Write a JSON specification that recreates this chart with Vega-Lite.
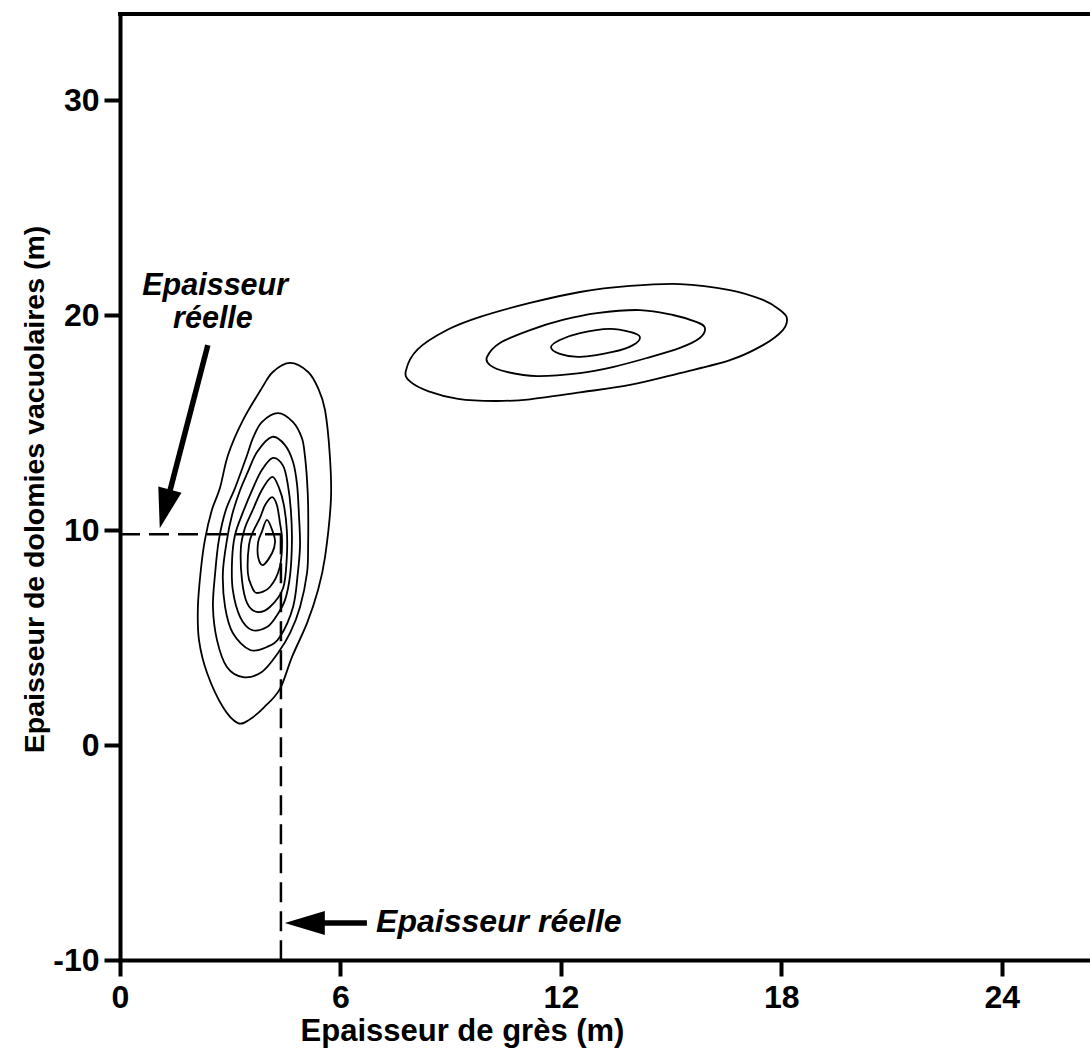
{
  "$schema": "https://vega.github.io/schema/vega-lite/v6.json",
  "width": 970,
  "height": 946,
  "autosize": {"type": "none"},
  "padding": {"left": 120, "top": 14, "right": 0, "bottom": 99},
  "background": "white",
  "config": {
    "view": {"stroke": null},
    "axis": {
      "grid": false,
      "domainColor": "black",
      "domainWidth": 4,
      "domainCap": "square",
      "tickColor": "black",
      "tickWidth": 4,
      "tickSize": 16,
      "labelFont": "Liberation Sans",
      "labelFontSize": 32,
      "labelFontWeight": "bold",
      "labelColor": "black",
      "labelFlush": false,
      "labelOverlap": false,
      "titleFont": "Liberation Sans",
      "titleFontWeight": "bold",
      "titleColor": "black"
    }
  },
  "datasets": {
    "frame": [{"x": 0, "x2": 26.4, "y": 34}],
    "contours": [
      {"c": "L1", "o": 0, "x": 4.63, "y": 17.77},
      {"c": "L1", "o": 1, "x": 5.12, "y": 17.35},
      {"c": "L1", "o": 2, "x": 5.39, "y": 16.6},
      {"c": "L1", "o": 3, "x": 5.58, "y": 15.58},
      {"c": "L1", "o": 4, "x": 5.71, "y": 13.49},
      {"c": "L1", "o": 5, "x": 5.74, "y": 11.4},
      {"c": "L1", "o": 6, "x": 5.58, "y": 8.74},
      {"c": "L1", "o": 7, "x": 5.39, "y": 7.21},
      {"c": "L1", "o": 8, "x": 5.09, "y": 5.67},
      {"c": "L1", "o": 9, "x": 4.68, "y": 4.09},
      {"c": "L1", "o": 10, "x": 4.35, "y": 2.6},
      {"c": "L1", "o": 11, "x": 3.92, "y": 1.75},
      {"c": "L1", "o": 12, "x": 3.54, "y": 1.2},
      {"c": "L1", "o": 13, "x": 3.21, "y": 1.02},
      {"c": "L1", "o": 14, "x": 2.8, "y": 1.77},
      {"c": "L1", "o": 15, "x": 2.37, "y": 3.35},
      {"c": "L1", "o": 16, "x": 2.15, "y": 4.88},
      {"c": "L1", "o": 17, "x": 2.12, "y": 6.42},
      {"c": "L1", "o": 18, "x": 2.2, "y": 8.14},
      {"c": "L1", "o": 19, "x": 2.31, "y": 9.53},
      {"c": "L1", "o": 20, "x": 2.5, "y": 10.93},
      {"c": "L1", "o": 21, "x": 2.72, "y": 11.95},
      {"c": "L1", "o": 22, "x": 2.94, "y": 13.49},
      {"c": "L1", "o": 23, "x": 3.32, "y": 15.02},
      {"c": "L1", "o": 24, "x": 3.86, "y": 16.6},
      {"c": "L1", "o": 25, "x": 4.16, "y": 17.35},

      {"c": "L2", "o": 0, "x": 4.3, "y": 15.44},
      {"c": "L2", "o": 1, "x": 4.71, "y": 15.02},
      {"c": "L2", "o": 2, "x": 4.95, "y": 14.28},
      {"c": "L2", "o": 3, "x": 5.03, "y": 13.49},
      {"c": "L2", "o": 4, "x": 5.09, "y": 12.33},
      {"c": "L2", "o": 5, "x": 5.12, "y": 11.16},
      {"c": "L2", "o": 6, "x": 5.12, "y": 9.3},
      {"c": "L2", "o": 7, "x": 5.09, "y": 8.0},
      {"c": "L2", "o": 8, "x": 4.9, "y": 6.42},
      {"c": "L2", "o": 9, "x": 4.63, "y": 5.21},
      {"c": "L2", "o": 10, "x": 4.3, "y": 4.28},
      {"c": "L2", "o": 11, "x": 3.86, "y": 3.4},
      {"c": "L2", "o": 12, "x": 3.35, "y": 3.16},
      {"c": "L2", "o": 13, "x": 2.91, "y": 3.63},
      {"c": "L2", "o": 14, "x": 2.64, "y": 4.88},
      {"c": "L2", "o": 15, "x": 2.53, "y": 6.42},
      {"c": "L2", "o": 16, "x": 2.59, "y": 8.0},
      {"c": "L2", "o": 17, "x": 2.69, "y": 9.53},
      {"c": "L2", "o": 18, "x": 2.88, "y": 10.93},
      {"c": "L2", "o": 19, "x": 3.13, "y": 11.95},
      {"c": "L2", "o": 20, "x": 3.46, "y": 13.49},
      {"c": "L2", "o": 21, "x": 3.62, "y": 14.28},
      {"c": "L2", "o": 22, "x": 3.86, "y": 15.02},

      {"c": "L3", "o": 0, "x": 4.14, "y": 14.33},
      {"c": "L3", "o": 1, "x": 4.49, "y": 13.95},
      {"c": "L3", "o": 2, "x": 4.71, "y": 13.16},
      {"c": "L3", "o": 3, "x": 4.82, "y": 12.09},
      {"c": "L3", "o": 4, "x": 4.87, "y": 10.7},
      {"c": "L3", "o": 5, "x": 4.9, "y": 9.3},
      {"c": "L3", "o": 6, "x": 4.84, "y": 8.0},
      {"c": "L3", "o": 7, "x": 4.71, "y": 6.42},
      {"c": "L3", "o": 8, "x": 4.35, "y": 5.02},
      {"c": "L3", "o": 9, "x": 4.0, "y": 4.56},
      {"c": "L3", "o": 10, "x": 3.54, "y": 4.42},
      {"c": "L3", "o": 11, "x": 3.07, "y": 5.21},
      {"c": "L3", "o": 12, "x": 2.86, "y": 6.42},
      {"c": "L3", "o": 13, "x": 2.8, "y": 8.0},
      {"c": "L3", "o": 14, "x": 2.91, "y": 9.53},
      {"c": "L3", "o": 15, "x": 3.05, "y": 10.7},
      {"c": "L3", "o": 16, "x": 3.27, "y": 11.86},
      {"c": "L3", "o": 17, "x": 3.48, "y": 12.7},
      {"c": "L3", "o": 18, "x": 3.73, "y": 13.63},

      {"c": "L4", "o": 0, "x": 4.16, "y": 13.35},
      {"c": "L4", "o": 1, "x": 4.44, "y": 12.98},
      {"c": "L4", "o": 2, "x": 4.57, "y": 12.09},
      {"c": "L4", "o": 3, "x": 4.65, "y": 10.93},
      {"c": "L4", "o": 4, "x": 4.68, "y": 9.53},
      {"c": "L4", "o": 5, "x": 4.63, "y": 7.91},
      {"c": "L4", "o": 6, "x": 4.49, "y": 6.74},
      {"c": "L4", "o": 7, "x": 4.24, "y": 5.95},
      {"c": "L4", "o": 8, "x": 4.0, "y": 5.49},
      {"c": "L4", "o": 9, "x": 3.59, "y": 5.35},
      {"c": "L4", "o": 10, "x": 3.27, "y": 5.95},
      {"c": "L4", "o": 11, "x": 3.07, "y": 7.21},
      {"c": "L4", "o": 12, "x": 3.05, "y": 8.6},
      {"c": "L4", "o": 13, "x": 3.13, "y": 9.77},
      {"c": "L4", "o": 14, "x": 3.35, "y": 10.84},
      {"c": "L4", "o": 15, "x": 3.62, "y": 11.95},
      {"c": "L4", "o": 16, "x": 3.86, "y": 12.79},

      {"c": "L5", "o": 0, "x": 4.14, "y": 12.47},
      {"c": "L5", "o": 1, "x": 4.33, "y": 11.95},
      {"c": "L5", "o": 2, "x": 4.46, "y": 11.16},
      {"c": "L5", "o": 3, "x": 4.54, "y": 10.0},
      {"c": "L5", "o": 4, "x": 4.54, "y": 8.74},
      {"c": "L5", "o": 5, "x": 4.44, "y": 7.3},
      {"c": "L5", "o": 6, "x": 4.08, "y": 6.42},
      {"c": "L5", "o": 7, "x": 3.73, "y": 6.19},
      {"c": "L5", "o": 8, "x": 3.46, "y": 6.6},
      {"c": "L5", "o": 9, "x": 3.32, "y": 7.67},
      {"c": "L5", "o": 10, "x": 3.29, "y": 9.16},
      {"c": "L5", "o": 11, "x": 3.4, "y": 10.09},
      {"c": "L5", "o": 12, "x": 3.59, "y": 10.84},
      {"c": "L5", "o": 13, "x": 3.86, "y": 11.86},

      {"c": "L6", "o": 0, "x": 4.14, "y": 11.53},
      {"c": "L6", "o": 1, "x": 4.27, "y": 11.16},
      {"c": "L6", "o": 2, "x": 4.35, "y": 10.37},
      {"c": "L6", "o": 3, "x": 4.41, "y": 9.53},
      {"c": "L6", "o": 4, "x": 4.35, "y": 8.28},
      {"c": "L6", "o": 5, "x": 4.08, "y": 7.35},
      {"c": "L6", "o": 6, "x": 3.73, "y": 7.07},
      {"c": "L6", "o": 7, "x": 3.59, "y": 7.35},
      {"c": "L6", "o": 8, "x": 3.48, "y": 8.0},
      {"c": "L6", "o": 9, "x": 3.51, "y": 9.3},
      {"c": "L6", "o": 10, "x": 3.62, "y": 9.91},
      {"c": "L6", "o": 11, "x": 3.81, "y": 10.56},
      {"c": "L6", "o": 12, "x": 3.95, "y": 11.16},

      {"c": "L7", "o": 0, "x": 4.0, "y": 10.47},
      {"c": "L7", "o": 1, "x": 4.16, "y": 9.91},
      {"c": "L7", "o": 2, "x": 4.22, "y": 9.44},
      {"c": "L7", "o": 3, "x": 4.14, "y": 8.93},
      {"c": "L7", "o": 4, "x": 3.89, "y": 8.37},
      {"c": "L7", "o": 5, "x": 3.76, "y": 8.74},
      {"c": "L7", "o": 6, "x": 3.76, "y": 9.44},
      {"c": "L7", "o": 7, "x": 3.86, "y": 9.91},

      {"c": "R1", "o": 0, "x": 7.78, "y": 17.4},
      {"c": "R1", "o": 1, "x": 8.1, "y": 18.4},
      {"c": "R1", "o": 2, "x": 8.9, "y": 19.3},
      {"c": "R1", "o": 3, "x": 9.8, "y": 19.91},
      {"c": "R1", "o": 4, "x": 11.16, "y": 20.56},
      {"c": "R1", "o": 5, "x": 12.52, "y": 21.07},
      {"c": "R1", "o": 6, "x": 13.88, "y": 21.35},
      {"c": "R1", "o": 7, "x": 15.24, "y": 21.44},
      {"c": "R1", "o": 8, "x": 16.6, "y": 21.16},
      {"c": "R1", "o": 9, "x": 17.5, "y": 20.7},
      {"c": "R1", "o": 10, "x": 17.96, "y": 20.23},
      {"c": "R1", "o": 11, "x": 18.15, "y": 19.86},
      {"c": "R1", "o": 12, "x": 18.04, "y": 19.3},
      {"c": "R1", "o": 13, "x": 17.5, "y": 18.6},
      {"c": "R1", "o": 14, "x": 16.6, "y": 17.9},
      {"c": "R1", "o": 15, "x": 15.24, "y": 17.3},
      {"c": "R1", "o": 16, "x": 13.88, "y": 16.75},
      {"c": "R1", "o": 17, "x": 12.52, "y": 16.4},
      {"c": "R1", "o": 18, "x": 11.16, "y": 16.08},
      {"c": "R1", "o": 19, "x": 10.2, "y": 16.0},
      {"c": "R1", "o": 20, "x": 9.2, "y": 16.1},
      {"c": "R1", "o": 21, "x": 8.4, "y": 16.45},
      {"c": "R1", "o": 22, "x": 7.9, "y": 16.9},

      {"c": "R2", "o": 0, "x": 9.99, "y": 18.05},
      {"c": "R2", "o": 1, "x": 10.34, "y": 18.7},
      {"c": "R2", "o": 2, "x": 11.16, "y": 19.3},
      {"c": "R2", "o": 3, "x": 12.05, "y": 19.77},
      {"c": "R2", "o": 4, "x": 12.98, "y": 20.09},
      {"c": "R2", "o": 5, "x": 14.15, "y": 20.23},
      {"c": "R2", "o": 6, "x": 15.05, "y": 20.0},
      {"c": "R2", "o": 7, "x": 15.7, "y": 19.67},
      {"c": "R2", "o": 8, "x": 15.92, "y": 19.4},
      {"c": "R2", "o": 9, "x": 15.78, "y": 18.93},
      {"c": "R2", "o": 10, "x": 15.24, "y": 18.47},
      {"c": "R2", "o": 11, "x": 14.34, "y": 18.0},
      {"c": "R2", "o": 12, "x": 13.41, "y": 17.58},
      {"c": "R2", "o": 13, "x": 12.52, "y": 17.3},
      {"c": "R2", "o": 14, "x": 11.35, "y": 17.16},
      {"c": "R2", "o": 15, "x": 10.53, "y": 17.35},
      {"c": "R2", "o": 16, "x": 10.07, "y": 17.67},

      {"c": "R3", "o": 0, "x": 11.73, "y": 18.51},
      {"c": "R3", "o": 1, "x": 11.97, "y": 18.84},
      {"c": "R3", "o": 2, "x": 12.52, "y": 19.16},
      {"c": "R3", "o": 3, "x": 13.33, "y": 19.35},
      {"c": "R3", "o": 4, "x": 13.88, "y": 19.21},
      {"c": "R3", "o": 5, "x": 14.15, "y": 18.98},
      {"c": "R3", "o": 6, "x": 13.96, "y": 18.6},
      {"c": "R3", "o": 7, "x": 13.41, "y": 18.28},
      {"c": "R3", "o": 8, "x": 12.52, "y": 18.05},
      {"c": "R3", "o": 9, "x": 11.97, "y": 18.19}
    ],
    "dashes": [
      {"x": 0, "y": 9.8, "x2": 4.38, "y2": 9.8},
      {"x": 4.38, "y": 9.8, "x2": 4.38, "y2": -10}
    ],
    "shafts": [
      {"x": 2.39, "y": 18.6, "x2": 1.33, "y2": 11.63},
      {"x": 5.44, "y": -8.28, "x2": 6.72, "y2": -8.28}
    ],
    "headDown": [{"x": 1.22, "y": 10.98}],
    "headLeft": [{"x": 5.03, "y": -8.28}],
    "labelsCenter": [
      {"x": 2.59, "y": 20.93, "t": "Epaisseur"},
      {"x": 2.53, "y": 19.4, "t": "réelle"}
    ],
    "labelsLeft": [
      {"x": 6.97, "y": -8.7, "t": "Epaisseur réelle"}
    ]
  },
  "encoding": {
    "x": {
      "field": "x",
      "type": "quantitative",
      "scale": {"domain": [0, 26.4], "nice": false, "zero": false},
      "title": "Epaisseur de grès (m)",
      "axis": {
        "values": [0, 6, 12, 18, 24],
        "labelPadding": 6,
        "titleFontSize": 31,
        "titleX": 342,
        "titleY": 71,
        "titleAlign": "center",
        "titleBaseline": "middle"
      }
    },
    "y": {
      "field": "y",
      "type": "quantitative",
      "scale": {"domain": [-10, 34], "nice": false, "zero": false},
      "title": "Epaisseur de dolomies vacuolaires (m)",
      "axis": {
        "values": [-10, 0, 10, 20, 30],
        "labelExpr": "toString(datum.value)",
        "labelPadding": 5,
        "titleFontSize": 28.5,
        "titleX": -86,
        "titleY": 475,
        "titleAngle": -90,
        "titleAlign": "center",
        "titleBaseline": "middle"
      }
    }
  },
  "layer": [
    {
      "data": {"name": "frame"},
      "mark": {"type": "rule", "color": "black", "strokeWidth": 4, "strokeCap": "square"},
      "encoding": {"x2": {"field": "x2"}}
    },
    {
      "data": {"name": "contours"},
      "mark": {"type": "line", "color": "black", "strokeWidth": 1.8, "interpolate": "cardinal-closed"},
      "encoding": {
        "detail": {"field": "c"},
        "order": {"field": "o", "type": "quantitative"}
      }
    },
    {
      "data": {"name": "dashes"},
      "mark": {"type": "rule", "color": "black", "strokeWidth": 2.5, "strokeDash": [20, 9]},
      "encoding": {"x2": {"field": "x2"}, "y2": {"field": "y2"}}
    },
    {
      "data": {"name": "shafts"},
      "mark": {"type": "rule", "color": "black", "strokeWidth": 5.5},
      "encoding": {"x2": {"field": "x2"}, "y2": {"field": "y2"}}
    },
    {
      "data": {"name": "headDown"},
      "mark": {"type": "point", "shape": "M-0.6,-1L0.6,-1L0,1Z", "size": 1600, "angle": 14.7, "filled": true, "color": "black", "opacity": 1, "strokeWidth": 0},
      "encoding": {}
    },
    {
      "data": {"name": "headLeft"},
      "mark": {"type": "point", "shape": "M-0.6,-1L0.6,-1L0,1Z", "size": 1600, "angle": 90, "filled": true, "color": "black", "opacity": 1, "strokeWidth": 0},
      "encoding": {}
    },
    {
      "data": {"name": "labelsCenter"},
      "mark": {"type": "text", "font": "Liberation Sans", "fontSize": 30.5, "fontWeight": "bold", "fontStyle": "italic", "align": "center", "baseline": "alphabetic", "color": "black"},
      "encoding": {"text": {"field": "t"}}
    },
    {
      "data": {"name": "labelsLeft"},
      "mark": {"type": "text", "font": "Liberation Sans", "fontSize": 32, "fontWeight": "bold", "fontStyle": "italic", "align": "left", "baseline": "alphabetic", "color": "black"},
      "encoding": {"text": {"field": "t"}}
    }
  ]
}
